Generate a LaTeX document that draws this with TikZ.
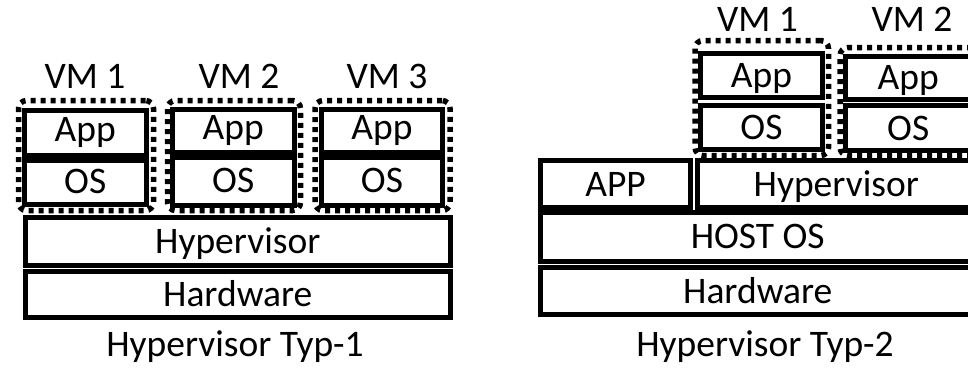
\documentclass[tikz,border=0pt]{standalone}
\usepackage{fontspec}
\setmainfont{Carlito}
\begin{document}
\begin{tikzpicture}[x=1pt,y=-1pt,
  txt/.style={font=\fontsize{37.5}{40}\selectfont, inner sep=0pt},
  layer/.style={txt, draw=black, line width=5pt, text height=24pt, text depth=0pt},
  applayer/.style={layer, text depth=6pt},
  oslayer/.style={layer, text depth=3pt},
  vmframe/.style={draw=black, line width=5.5pt, dash pattern=on 5pt off 5pt,
    rounded corners=8pt, inner sep=0pt},
  lbl/.style={txt, anchor=base}]
\useasboundingbox (0,0) rectangle (968,368);
\clip (0,0) rectangle (968,368);

% ---------- Type 1: bare-metal hypervisor ----------
\node[vmframe, minimum width=135pt, minimum height=110pt] (f1) at (86,155.5) {};
\node[vmframe, minimum width=133pt, minimum height=110pt] (f2) at (234,155.5) {};
\node[vmframe, minimum width=135pt, minimum height=110pt] (f3) at (382.5,155.5) {};

\node[applayer, minimum width=122.5pt, minimum height=45.5pt] (a1) at (85.25,132.75) {App};
\node[oslayer,  minimum width=122.5pt, minimum height=44pt]   (o1) at (85.25,182.5) {OS};
\node[applayer, minimum width=121.5pt, minimum height=43.5pt] (a2) at (233.25,130.75) {App};
\node[oslayer,  minimum width=121.5pt, minimum height=48pt]   (o2) at (233.25,181.5) {OS};
\node[applayer, minimum width=121pt,   minimum height=43.5pt] (a3) at (382,130.75) {App};
\node[oslayer,  minimum width=121pt,   minimum height=48pt]   (o3) at (382,181.5) {OS};

\node[layer, minimum width=425.5pt, minimum height=48pt]   (hyp1) at (237.75,241) {Hypervisor};
\node[layer, minimum width=425.5pt, minimum height=46.5pt] (hw1)  at (237.75,294.25) {Hardware};

\node[lbl] (v11) at (85,88) {VM 1};
\node[lbl] (v12) at (239,88) {VM 2};
\node[lbl] (v13) at (387,88) {VM 3};
\node[lbl] (cap1) at (235,356.7) {Hypervisor Typ-1};

% ---------- Type 2: hosted hypervisor ----------
\node[vmframe, minimum width=133.5pt, minimum height=115pt] (g1) at (761.75,98) {};
\node[vmframe, minimum width=150pt,   minimum height=108pt] (g2) at (915,101.5) {};

\node[layer, minimum width=122pt,   minimum height=44pt]   (b1) at (761.5,75.5) {App};
\node[layer, minimum width=122pt,   minimum height=44pt]   (p1) at (761.5,127.5) {OS};
\node[layer, minimum width=125.5pt, minimum height=43.5pt] (b2) at (908.25,77.75) {App};
\node[layer, minimum width=125.5pt, minimum height=45pt]   (p2) at (908.25,128) {OS};

\node[layer, minimum width=150pt,   minimum height=47pt]   (app2) at (615.5,184) {APP};
\node[layer, minimum width=277.5pt, minimum height=47pt]   (hyp2) at (836.25,184) {Hypervisor};
\node[layer, minimum width=434.5pt, minimum height=48.5pt] (host) at (757.75,236.75) {HOST OS};
\node[layer, minimum width=434.5pt, minimum height=47pt]   (hw2)  at (757.75,291) {Hardware};

\node[lbl] (v21) at (757.5,31.7) {VM 1};
\node[lbl] (v22) at (912,31.7) {VM 2};
\node[lbl] (cap2) at (765,356.7) {Hypervisor Typ-2};
\end{tikzpicture}
\end{document}
